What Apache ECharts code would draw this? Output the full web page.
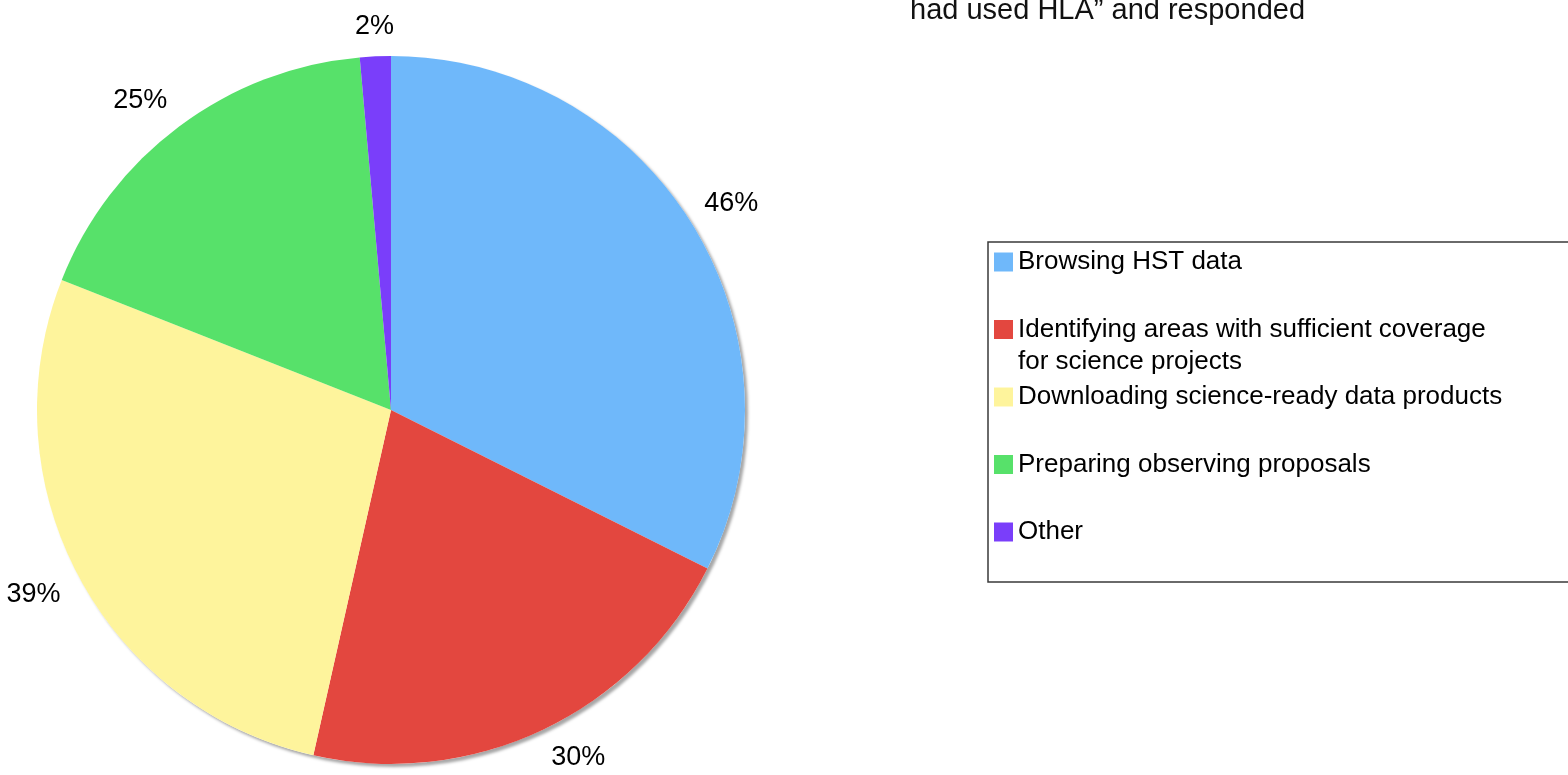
<!DOCTYPE html>
<html>
<head>
<meta charset="utf-8">
<script src="https://cdn.jsdelivr.net/npm/echarts@6/dist/echarts.min.js"></script>
<style>
html,body{margin:0;padding:0;background:#fff;}
#chart{width:1568px;height:775px;}
</style>
</head>
<body>
<div id="chart"></div>
<script>
// ---- data ----
const categories = [
  'Browsing HST data',
  'Identifying areas with sufficient coverage\nfor science projects',
  'Downloading science-ready data products',
  'Preparing observing proposals',
  'Other'
];
const values = [46, 30, 39, 25, 2];
const colors = ['#6fb8fa', '#e3473f', '#fef49c', '#57e16a', '#7a3efa'];
const headerText = 'had used HLA\u201D and responded';

// ---- layout constants ----
const FONT = '"Liberation Sans", Arial, Helvetica, sans-serif';
const CENTER = [391, 410];
const RADIUS = 354;
const LABEL_R = 374;

const chart = echarts.init(document.getElementById('chart'), null, {renderer: 'canvas'});

const pieData = categories.map((c, i) => ({name: c, value: values[i], itemStyle: {color: colors[i]}}));
const ringData = categories.map((c, i) => ({name: c, value: values[i]}));

const legendData = categories.map((c) => {
  const multi = c.indexOf('\n') >= 0;
  return {
    name: c,
    textStyle: {padding: multi ? [0, 0, 0, 0] : [32, 0, 32, 0]}
  };
});

const option = {
  backgroundColor: '#fff',
  animation: false,
  title: {
    text: headerText,
    left: 905,
    top: -9,
    textStyle: {fontFamily: FONT, fontSize: 29, fontWeight: 'normal', color: '#111'}
  },
  legend: {
    orient: 'vertical',
    left: 988,
    top: 242,
    padding: [-28, 90, 2, 6],
    itemGap: -28.5,
    itemWidth: 19,
    itemHeight: 19,
    icon: 'rect',
    borderColor: '#3a3a3a',
    borderWidth: 1.5,
    selectedMode: false,
    data: legendData,
    formatter: function (name) {
      return name.indexOf('\n') >= 0 ? ' \n' + name : name;
    },
    textStyle: {
      fontFamily: FONT,
      fontSize: 26,
      lineHeight: 32,
      color: '#000',
      backgroundColor: 'rgba(255,255,255,0)'
    }
  },
  series: [
    {
      // base disc that casts the drop shadow
      type: 'pie',
      silent: true,
      center: CENTER,
      radius: [0, RADIUS],
      startAngle: 90,
      label: {show: false},
      labelLine: {show: false},
      itemStyle: {
        color: '#fff',
        shadowColor: 'rgba(0,0,0,0.35)',
        shadowBlur: 3,
        shadowOffsetX: 3,
        shadowOffsetY: 3
      },
      data: [{name: '__base', value: 1}],
      z: 1
    },
    {
      type: 'pie',
      center: CENTER,
      radius: [0, RADIUS],
      startAngle: 90,
      clockwise: true,
      label: {show: false},
      labelLine: {show: false},
      itemStyle: {borderWidth: 0},
      emphasis: {disabled: true},
      data: pieData,
      z: 2
    },
    {
      // transparent ring that carries the value labels
      type: 'pie',
      silent: true,
      center: CENTER,
      radius: [372, 412],
      startAngle: 90,
      clockwise: true,
      itemStyle: {color: 'rgba(0,0,0,0)', borderWidth: 0},
      label: {
        show: true,
        position: 'inside',
        formatter: '{c}%',
        fontFamily: FONT,
        fontSize: 27,
        color: '#000'
      },
      labelLine: {show: false},
      labelLayout: function (params) {
        const r = params.labelRect;
        const lx = r.x + r.width / 2 - CENTER[0];
        const ly = r.y + r.height / 2 - CENTER[1];
        const len = Math.sqrt(lx * lx + ly * ly) || 1;
        const ux = lx / len, uy = ly / len;
        const hx = Math.abs(ux) < 0.2 ? 0 : Math.sign(ux);
        const vy = Math.abs(uy) < 0.2 ? 0 : Math.sign(uy);
        const capH = 20;
        return {
          x: CENTER[0] + LABEL_R * ux + hx * r.width / 2 - (hx > 0 && vy < 0 ? 5 : 0),
          y: CENTER[1] + LABEL_R * uy + vy * capH / 2,
          align: 'center',
          verticalAlign: 'middle'
        };
      },
      emphasis: {disabled: true},
      data: ringData,
      z: 3
    }
  ]
};
chart.setOption(option);
</script>
</body>
</html>
